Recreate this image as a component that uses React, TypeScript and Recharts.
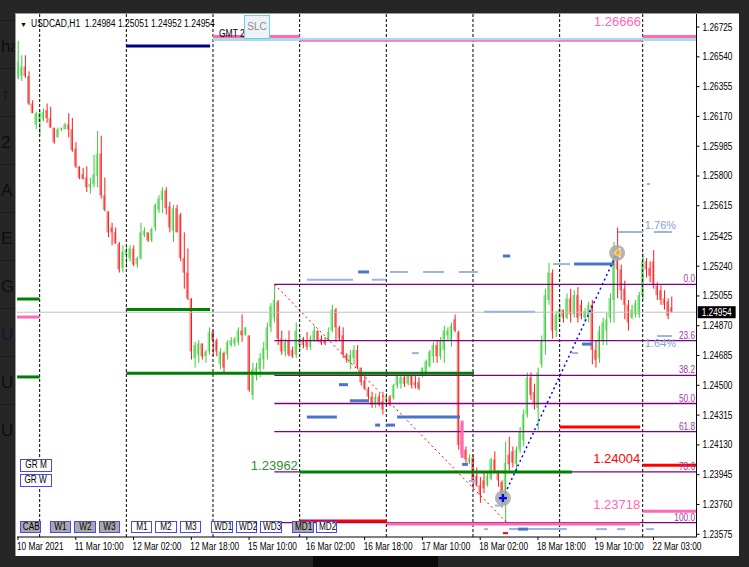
import React from 'react'
import { ComposedChart, Bar, XAxis, YAxis, ReferenceLine, ReferenceDot } from 'recharts'

type Ohlc = [number, number, number, number]
type Seg = [number, number, number]

// H1 bars, [open, high, low, close], one array per trading day
const mar10: Ohlc[] = [
  [1.2641, 1.2664, 1.2640, 1.2651],
  [1.2642, 1.2655, 1.2639, 1.2648],
  [1.2648, 1.2655, 1.2641, 1.2642],
  [1.2642, 1.2645, 1.2624, 1.2625],
  [1.2625, 1.2627, 1.2619, 1.2619],
  [1.2612, 1.2620, 1.2609, 1.2619],
]
const mar11: Ohlc[] = [
  [1.2614, 1.2621, 1.2605, 1.2619],
  [1.2615, 1.2622, 1.2614, 1.2620],
  [1.2621, 1.2625, 1.2613, 1.2616],
  [1.2616, 1.2623, 1.2610, 1.2610],
  [1.2610, 1.2610, 1.2600, 1.2601],
  [1.2604, 1.2610, 1.2604, 1.2609],
  [1.2609, 1.2610, 1.2608, 1.2610],
  [1.2609, 1.2613, 1.2609, 1.2612],
  [1.2612, 1.2619, 1.2604, 1.2609],
  [1.2609, 1.2616, 1.2595, 1.2596],
  [1.2597, 1.2601, 1.2585, 1.2586],
  [1.2586, 1.2586, 1.2578, 1.2579],
  [1.2581, 1.2585, 1.2578, 1.2578],
  [1.2579, 1.2586, 1.2570, 1.2573],
  [1.2573, 1.2579, 1.2569, 1.2575],
  [1.2575, 1.2593, 1.2573, 1.2581],
  [1.2580, 1.2608, 1.2573, 1.2594],
  [1.2594, 1.2605, 1.2566, 1.2568],
  [1.2568, 1.2579, 1.2558, 1.2559],
  [1.2558, 1.2558, 1.2542, 1.2545],
  [1.2548, 1.2551, 1.2537, 1.2545],
  [1.2545, 1.2548, 1.2538, 1.2538],
  [1.2538, 1.2539, 1.2520, 1.2522],
  [1.2523, 1.2537, 1.2520, 1.2533],
]
const mar12: Ohlc[] = [
  [1.2531, 1.2536, 1.2523, 1.2534],
  [1.2529, 1.2537, 1.2527, 1.2535],
  [1.2535, 1.2537, 1.2524, 1.2525],
  [1.2525, 1.2530, 1.2523, 1.2529],
  [1.2529, 1.2551, 1.2528, 1.2545],
  [1.2543, 1.2548, 1.2542, 1.2546],
  [1.2545, 1.2545, 1.2539, 1.2540],
  [1.2540, 1.2548, 1.2539, 1.2547],
  [1.2548, 1.2563, 1.2546, 1.2562],
  [1.2559, 1.2568, 1.2557, 1.2566],
  [1.2565, 1.2573, 1.2557, 1.2571],
  [1.2571, 1.2573, 1.2556, 1.2560],
  [1.2561, 1.2564, 1.2545, 1.2548],
  [1.2546, 1.2562, 1.2539, 1.2560],
  [1.2560, 1.2562, 1.2545, 1.2545],
  [1.2556, 1.2557, 1.2527, 1.2529],
  [1.2529, 1.2545, 1.2510, 1.2520],
  [1.2520, 1.2535, 1.2503, 1.2504],
  [1.2504, 1.2504, 1.2466, 1.2471],
  [1.2467, 1.2477, 1.2461, 1.2475],
  [1.2469, 1.2478, 1.2464, 1.2476],
  [1.2476, 1.2476, 1.2466, 1.2468],
  [1.2468, 1.2472, 1.2464, 1.2471],
  [1.2471, 1.2486, 1.2469, 1.2483],
]
const mar15: Ohlc[] = [
  [1.2483, 1.2484, 1.2468, 1.2478],
  [1.2478, 1.2479, 1.2468, 1.2471],
  [1.2463, 1.2473, 1.2460, 1.2471],
  [1.2470, 1.2471, 1.2458, 1.2461],
  [1.2469, 1.2478, 1.2466, 1.2477],
  [1.2475, 1.2480, 1.2474, 1.2478],
  [1.2476, 1.2480, 1.2474, 1.2479],
  [1.2477, 1.2486, 1.2475, 1.2484],
  [1.2484, 1.2494, 1.2477, 1.2481],
  [1.2481, 1.2486, 1.2481, 1.2486],
  [1.2481, 1.2481, 1.2446, 1.2447],
  [1.2444, 1.2464, 1.2441, 1.2460],
  [1.2456, 1.2464, 1.2453, 1.2461],
  [1.2460, 1.2470, 1.2455, 1.2467],
  [1.2466, 1.2477, 1.2460, 1.2473],
  [1.2472, 1.2489, 1.2466, 1.2486],
  [1.2486, 1.2501, 1.2483, 1.2499],
  [1.2492, 1.25127, 1.2489, 1.2503],
  [1.2502, 1.2503, 1.2475, 1.2479],
  [1.2479, 1.2484, 1.2469, 1.2471],
  [1.2471, 1.2479, 1.2468, 1.2477],
  [1.2478, 1.2484, 1.2468, 1.2469],
  [1.2472, 1.2474, 1.2467, 1.2468],
  [1.2469, 1.2489, 1.2467, 1.2484],
]
const mar16: Ohlc[] = [
  [1.2475, 1.2481, 1.2472, 1.2479],
  [1.2479, 1.2480, 1.2473, 1.2475],
  [1.2478, 1.2483, 1.2472, 1.2474],
  [1.2474, 1.2481, 1.2472, 1.2479],
  [1.2478, 1.2487, 1.2477, 1.2484],
  [1.2484, 1.2484, 1.2477, 1.2478],
  [1.2479, 1.2481, 1.2475, 1.2476],
  [1.2478, 1.2480, 1.2475, 1.2476],
  [1.2478, 1.2486, 1.2478, 1.2483],
  [1.2484, 1.2500, 1.2483, 1.2497],
  [1.2497, 1.2498, 1.2477, 1.2486],
  [1.2486, 1.2487, 1.2478, 1.2479],
  [1.2481, 1.2486, 1.2467, 1.2469],
  [1.2469, 1.2470, 1.2464, 1.2466],
  [1.2464, 1.2472, 1.2460, 1.2469],
  [1.2467, 1.2475, 1.2463, 1.2472],
  [1.2472, 1.2475, 1.2460, 1.2461],
  [1.2461, 1.2461, 1.2450, 1.2452],
  [1.2453, 1.2456, 1.2447, 1.2448],
  [1.2448, 1.2449, 1.2441, 1.2443],
  [1.2443, 1.2446, 1.2436, 1.2438],
  [1.2438, 1.2445, 1.2436, 1.2443],
  [1.2443, 1.2445, 1.2437, 1.2438],
  [1.2440, 1.2446, 1.2432, 1.2435],
]
const mar17: Ohlc[] = [
  [1.2440, 1.2445, 1.2438, 1.2443],
  [1.2443, 1.2444, 1.2437, 1.2438],
  [1.2442, 1.2451, 1.2441, 1.2450],
  [1.2450, 1.2458, 1.2448, 1.2456],
  [1.2451, 1.2456, 1.2448, 1.2455],
  [1.2455, 1.2456, 1.2449, 1.2451],
  [1.2451, 1.2458, 1.2450, 1.2456],
  [1.2456, 1.2456, 1.2448, 1.2450],
  [1.2452, 1.2456, 1.2448, 1.2450],
  [1.2452, 1.2455, 1.2447, 1.2448],
  [1.2456, 1.2461, 1.2455, 1.2461],
  [1.2458, 1.2466, 1.2456, 1.2465],
  [1.2462, 1.2472, 1.2461, 1.2471],
  [1.2468, 1.2477, 1.2464, 1.2475],
  [1.2475, 1.2478, 1.2464, 1.2468],
  [1.2468, 1.2480, 1.2466, 1.2478],
  [1.2472, 1.2487, 1.2464, 1.2484],
  [1.2481, 1.2486, 1.2478, 1.2484],
  [1.2478, 1.2489, 1.2474, 1.2487],
  [1.2491, 1.2494, 1.2483, 1.2484],
  [1.2483, 1.2484, 1.2410, 1.2413],
  [1.2425, 1.2428, 1.2405, 1.2407],
  [1.2410, 1.2412, 1.2402, 1.2404],
  [1.2402, 1.2407, 1.2401, 1.2405],
]
const mar18: Ohlc[] = [
  [1.2405, 1.2407, 1.2386, 1.2391],
  [1.2394, 1.2399, 1.2387, 1.2388],
  [1.2388, 1.2393, 1.2377, 1.2382],
  [1.2391, 1.2397, 1.2383, 1.2386],
  [1.2388, 1.2396, 1.2387, 1.2394],
  [1.2392, 1.2405, 1.2391, 1.2404],
  [1.2404, 1.2409, 1.2396, 1.2397],
  [1.2397, 1.2397, 1.2387, 1.2391],
  [1.2390, 1.2391, 1.2374, 1.2379],
  [1.2376, 1.2415, 1.23647, 1.2402],
  [1.2407, 1.2418, 1.2397, 1.2401],
  [1.2409, 1.2412, 1.2399, 1.2402],
  [1.2401, 1.2412, 1.2397, 1.2410],
  [1.2410, 1.2424, 1.2408, 1.2421],
  [1.2416, 1.2435, 1.2412, 1.2432],
  [1.2432, 1.2458, 1.2430, 1.2455],
  [1.2455, 1.2458, 1.2441, 1.2444],
  [1.2446, 1.2451, 1.2435, 1.2438],
  [1.2436, 1.2461, 1.2422, 1.2458],
  [1.2463, 1.2481, 1.2461, 1.2478],
  [1.2478, 1.2510, 1.2469, 1.2506],
  [1.2503, 1.2526, 1.2500, 1.2520],
  [1.2520, 1.2522, 1.2479, 1.2484],
  [1.2484, 1.2496, 1.2480, 1.2494],
]
const mar19: Ohlc[] = [
  [1.2491, 1.2500, 1.2489, 1.2497],
  [1.2497, 1.2497, 1.2489, 1.2492],
  [1.2492, 1.2507, 1.2491, 1.2504],
  [1.2504, 1.2510, 1.2489, 1.2494],
  [1.2494, 1.2509, 1.2492, 1.2506],
  [1.2506, 1.2511, 1.2489, 1.2492],
  [1.2500, 1.2503, 1.2491, 1.2493],
  [1.2492, 1.2498, 1.2489, 1.2496],
  [1.2494, 1.2502, 1.2489, 1.2500],
  [1.2500, 1.2503, 1.2463, 1.2472],
  [1.2472, 1.2478, 1.2461, 1.2466],
  [1.2467, 1.2487, 1.2464, 1.2484],
  [1.2478, 1.2492, 1.2475, 1.2489],
  [1.2484, 1.2495, 1.2475, 1.2491],
  [1.2492, 1.2507, 1.2489, 1.2504],
  [1.2503, 1.2539, 1.2489, 1.2531],
  [1.2531, 1.2548, 1.2504, 1.2522],
  [1.2522, 1.2525, 1.2503, 1.2509],
  [1.2510, 1.2515, 1.2491, 1.2500],
  [1.2500, 1.2503, 1.2484, 1.2489],
  [1.2492, 1.2500, 1.2491, 1.2497],
  [1.2494, 1.2503, 1.2492, 1.2501],
  [1.2494, 1.2508, 1.2492, 1.2506],
]
const mar22: Ohlc[] = [
  [1.2506, 1.2532, 1.2503, 1.2527],
  [1.2527, 1.2529, 1.2517, 1.2522],
  [1.2523, 1.2527, 1.2514, 1.2518],
  [1.2527, 1.2534, 1.2510, 1.2512],
  [1.2512, 1.2514, 1.2503, 1.2506],
  [1.2509, 1.2512, 1.2500, 1.2503],
  [1.2504, 1.2509, 1.2497, 1.2500],
  [1.2502, 1.2504, 1.2491, 1.2493],
  [1.24984, 1.25051, 1.24952, 1.24954],
]

const timeLabels = ['10 Mar 2021', '11 Mar 10:00', '12 Mar 02:00', '12 Mar 18:00', '15 Mar 10:00', '16 Mar 02:00',
  '16 Mar 18:00', '17 Mar 10:00', '18 Mar 02:00', '18 Mar 18:00', '19 Mar 10:00', '22 Mar 03:00']
const labelBars = [0, 16, 32, 48, 64, 80, 96, 112, 128, 144, 160, 176]
const daySeparators = [6, 30, 54, 78, 102, 126, 150, 173]
const priceTicks = [1.26725, 1.2654, 1.26355, 1.2617, 1.25985, 1.258, 1.25615, 1.25425, 1.2524, 1.25055,
  1.2487, 1.24685, 1.245, 1.24315, 1.2413, 1.23945, 1.2376, 1.23575]
const lastPrice = 1.24954

const START = -0.25
const END = 187.8

// chart objects: [price, fromBar, toBar]
const cyanLevels: Seg[] = [[1.26647, 54, END]]
const navyLevels: Seg[] = [[1.26607, 29.9, 53.2]]
const pinkThinLevels: Seg[] = [[1.26638, 78, 173]]
const pinkLevels: Seg[] = [[1.26666, 54, 78], [1.26666, 173, END], [1.24924, START, 6], [1.23639, 102.2, 172.3], [1.23718, 173, END]]
const greenLevels: Seg[] = [[1.25036, START, 6], [1.24552, START, 6], [1.24971, 30, 53.2], [1.24575, 30, 126.3], [1.23962, 78, 153.4]]
const redLevels: Seg[] = [[1.23657, 78, 102.2], [1.24241, 150, 172.3], [1.24004, 173, END]]
const blueDark: Seg[] = [
  [1.25204, 94.2, 97.2], [1.25303, 134.3, 136.3], [1.25253, 154, 165.1], [1.24756, 156.2, 159.2],
  [1.24504, 88.9, 91.4], [1.24404, 91.9, 97.2], [1.24303, 80, 88.3], [1.24303, 105, 122.4],
  [1.24253, 98.9, 100.3], [1.24253, 101.9, 104.4], [1.24009, 123, 124.6], [1.23607, 138.5, 141.2],
]
const blueLight: Seg[] = [
  [1.25156, 80, 92.8], [1.25156, 98, 101.9], [1.25204, 103, 108], [1.25204, 112.2, 118], [1.25204, 122.1, 127.4],
  [1.25253, 148.2, 152.9], [1.25452, 166.2, 173.1], [1.25452, 176.1, 181.1], [1.24806, 177, 181.1],
  [1.247, 153.4, 155.1], [1.247, 109.1, 111], [1.24957, 129.1, 143.2], [1.23906, 124.9, 126.8],
  [1.23753, 132.1, 134.3], [1.23607, 129.1, 130.2], [1.23607, 136, 152], [1.23607, 160.1, 163.1],
  [1.23607, 165.9, 168.1], [1.23607, 173.9, 176.1], [1.2575, 174.2, 175],
]
const redDash: Seg[] = [[1.23582, 134.3, 135.7]]

const FIB_FROM = 71
const fibPrices = [1.25127, 1.24778, 1.24562, 1.24387, 1.24212, 1.23963, 1.23647]
const fibNames = ['0.0', '23.6', '38.2', '50.0', '61.8', '78.6', '100.0']
const fibSwing = [{ x: 71, y: 1.25127 }, { x: 135.4, y: 1.23647 }]
const riseSwing = [{ x: 134.3, y: 1.238 }, { x: 165.9, y: 1.25322 }]
const spikeMark = [{ x: 123, y: 1.2428 }, { x: 123, y: 1.2405 }]

// text objects on the chart: anchor bar, baseline price
const priceTags = [
  { text: '1.26666', bar: 172.5, price: 1.26732, color: '#ff69b4' },
  { text: '1.24004', bar: 172.3, price: 1.24015, color: '#ff0000' },
  { text: '1.23718', bar: 172.3, price: 1.23732, color: '#ff69b4' },
  { text: '1.23962', bar: 77.5, price: 1.23974, color: '#2f8f2f' },
]
const pctTags = [
  { text: '1.76%', bar: 173.6, price: 1.25468 },
  { text: '1.64%', bar: 173.6, price: 1.24738 },
]

const buttons = [
  { t: 'GR M', x: 20, y: 459, w: 32, h: 13, grey: false },
  { t: 'GR W', x: 20, y: 474, w: 32, h: 13, grey: false },
  { t: 'CAB', x: 20, y: 521, w: 21, h: 12, grey: true },
  { t: 'W1', x: 50, y: 521, w: 21, h: 12, grey: true },
  { t: 'W2', x: 74, y: 521, w: 22, h: 12, grey: true },
  { t: 'W3', x: 99, y: 521, w: 21, h: 12, grey: true },
  { t: 'M1', x: 131, y: 521, w: 21, h: 12, grey: false },
  { t: 'M2', x: 155, y: 521, w: 22, h: 12, grey: false },
  { t: 'M3', x: 180, y: 521, w: 21, h: 12, grey: false },
  { t: 'WD1', x: 211, y: 521, w: 22, h: 12, grey: false },
  { t: 'WD2', x: 236, y: 521, w: 21, h: 12, grey: false },
  { t: 'WD3', x: 260, y: 521, w: 22, h: 12, grey: false },
  { t: 'MD1', x: 292, y: 521, w: 22, h: 12, grey: true },
  { t: 'MD2', x: 316, y: 521, w: 21, h: 12, grey: false },
]
const sideLetters = ['ha', '↑', '2', 'A', 'E', 'G', 'U', 'U', 'U']

const FONT = '"Liberation Sans", Arial, sans-serif'
const NARROW = 0.83

// rough Liberation Sans advance widths, used to squeeze labels to the terminal's narrow font
const CW: Record<string, number> = { ' ': 0.278, '.': 0.278, ':': 0.278, ',': 0.278, '%': 0.889, M: 0.833, a: 0.556, r: 0.333 }
const textW = (s: string, size: number) => [...s].reduce((w, c) => w + (CW[c] ?? 0.556) * size, 0)

const NText = ({ x, y, text, size = 10, anchor = 'start', fill = '#000' }: any) => (
  <text x={x} y={y} fontSize={size} fontFamily={FONT} fill={fill} textAnchor={anchor}
    textLength={textW(text, size) * NARROW} lengthAdjust="spacingAndGlyphs">{text}</text>
)

const data = [mar10, mar11, mar12, mar15, mar16, mar17, mar18, mar19, mar22]
  .flat()
  .map(([open, high, low, close], i) => ({ i, open, high, low, close, range: [low, high] }))

const Candle = (props: any) => {
  const { x, y, width, height, payload } = props
  if (x == null || y == null || !payload) return null
  const { open, high, low, close } = payload
  const top = Math.min(y, y + height)
  const bottom = Math.max(y, y + height)
  const k = high > low ? (bottom - top) / (high - low) : 0
  const at = (v: number) => top + (high - v) * k
  const up = close >= open
  const cx = x + width / 2
  const bTop = Math.min(at(open), at(close))
  const bH = Math.max(1, Math.abs(at(open) - at(close)))
  return (
    <g>
      <rect x={cx - 1.5} y={bTop} width={2.4} height={bH} fill={up ? '#8fe88f' : '#f48a8a'} />
      <line x1={cx + 0.5} x2={cx + 0.5} y1={top} y2={bottom} stroke={up ? '#3cc83c' : '#ff1a1a'} strokeWidth={1} />
    </g>
  )
}

const TimeTick = (props: any) => {
  const { x, y, payload } = props
  const k = labelBars.indexOf(payload.value)
  return <NText x={x - 1} y={y + 8} text={timeLabels[k]} />
}

const PriceTick = (props: any) => {
  const { x, y, payload } = props
  return <NText x={x} y={y + 3.5} text={Number(payload.value).toFixed(5)} />
}

function segs(list: Seg[], stroke: string, width: number, key: string) {
  return list.map(([p, a, b], n) => (
    <ReferenceLine key={key + n} segment={[{ x: a, y: p }, { x: b, y: p }]} stroke={stroke}
      strokeWidth={width} ifOverflow="visible" />
  ))
}

const squeeze: React.CSSProperties = { display: 'inline-block', transform: `scaleX(${NARROW + 0.02})`, transformOrigin: 'left center' }

export default function App() {
  return (
    <div style={{ position: 'absolute', left: 0, top: 0, width: 749, height: 567, background: '#262626', overflow: 'hidden', fontFamily: FONT }}>
      {/* left strip of the window behind */}
      {sideLetters.map((s, n) => (
        <div key={s + n} style={{ position: 'absolute', left: 1, top: 37 + n * 48, fontSize: 17,
          color: n === 6 ? '#0c1a3c' : '#0e0e0e', lineHeight: '20px' }}>{s}</div>
      ))}
      {sideLetters.map((s, n) => (
        <div key={'sep' + n} style={{ position: 'absolute', left: 0, top: 20 + n * 48, width: 16, height: 1, background: '#1c1c1c' }} />
      ))}
      <div style={{ position: 'absolute', left: 313, top: 555, width: 125, height: 12, background: '#0b0b0b' }} />
      <div style={{ position: 'absolute', left: 15, top: 13, width: 723, height: 542, background: '#fff', borderLeft: '1px solid #9a9a9a', borderTop: '1px solid #9a9a9a' }} />

      <div style={{ position: 'absolute', left: 0, top: 0 }}>
        <ComposedChart width={749} height={567} data={data} margin={{ top: 14, right: 0.5, bottom: 0, left: 17 }}
          style={{ fontFamily: FONT }}>
          <XAxis dataKey="i" type="number" domain={[-0.277, 187.9]} allowDataOverflow ticks={labelBars} interval={0}
            tick={<TimeTick />} tickSize={3} height={30} axisLine={{ stroke: '#000' }} tickLine={{ stroke: '#000' }} />
          <YAxis orientation="right" type="number" domain={[1.23558, 1.26806]} allowDataOverflow ticks={priceTicks}
            interval={0} width={52} tickSize={3} tickMargin={3} axisLine={{ stroke: '#000' }} tickLine={{ stroke: '#000' }}
            tick={<PriceTick />} />

          <Bar dataKey="range" barSize={3} shape={<Candle />} isAnimationActive={false} />

          {daySeparators.map((d) => (
            <ReferenceLine key={'d' + d} x={d} stroke="#000" strokeDasharray="3 2" ifOverflow="visible" />
          ))}
          <ReferenceLine y={lastPrice} stroke="#c0c0c0" ifOverflow="visible" />

          {segs(cyanLevels, '#a8dde8', 3, 'c')}
          {segs(pinkThinLevels, '#ff69b4', 1.5, 'pt')}
          {segs(navyLevels, '#000080', 3, 'n')}
          {fibPrices.map((p, n) => (
            <ReferenceLine key={'f' + n} segment={[{ x: FIB_FROM, y: p }, { x: END, y: p }]} stroke="#800080"
              strokeWidth={1.3} ifOverflow="visible" />
          ))}
          {fibPrices.map((p, n) => (
            <ReferenceDot key={'fl' + n} x={187.5} y={p} r={0} ifOverflow="visible"
              shape={(q: any) => <NText x={q.cx} y={q.cy - 2} anchor="end" fill="#9a3c9a" text={fibNames[n]} />} />
          ))}
          <ReferenceLine segment={fibSwing} stroke="#ff0000" strokeDasharray="2 3" ifOverflow="visible" />
          {segs(blueLight, '#9db4e0', 2, 'bl')}
          {segs(blueDark, '#4a74c8', 3, 'bd')}
          {segs(redDash, '#ff0000', 2, 'rd')}
          {segs(greenLevels, '#008000', 3, 'g')}
          {segs(redLevels, '#ff0000', 3, 'r')}
          {segs(pinkLevels, '#ff69b4', 3, 'p')}
          <ReferenceLine segment={spikeMark} stroke="#ff69b4" strokeWidth={3} ifOverflow="visible" />
          <ReferenceLine segment={riseSwing} stroke="#0000ff" strokeWidth={1.5} strokeDasharray="2 3" ifOverflow="visible" />

          <ReferenceDot x={riseSwing[0].x} y={riseSwing[0].y} r={0} ifOverflow="visible"
            shape={(q: any) => (
              <g>
                <circle cx={q.cx} cy={q.cy} r={8} fill="#a8a8a8" fillOpacity={0.85} />
                <path d={`M${q.cx - 4},${q.cy}H${q.cx + 4}M${q.cx},${q.cy - 4}V${q.cy + 4}`} stroke="#0000ff" strokeWidth={2.2} />
              </g>
            )} />
          <ReferenceDot x={riseSwing[1].x} y={riseSwing[1].y} r={0} ifOverflow="visible"
            shape={(q: any) => (
              <g>
                <circle cx={q.cx} cy={q.cy} r={8} fill="#a8a8a8" fillOpacity={0.85} />
                <path d={`M${q.cx + 3},${q.cy - 5}L${q.cx + 3},${q.cy + 4}L${q.cx - 3},${q.cy}Z`} fill="#ffa500" stroke="#fff" strokeWidth={0.8} />
              </g>
            )} />

          {priceTags.map((t) => (
            <ReferenceDot key={t.text} x={t.bar} y={t.price} r={0} ifOverflow="visible"
              shape={(q: any) => (
                <text x={q.cx} y={q.cy} textAnchor="end" fontSize={13} fontFamily={FONT} fill={t.color}>{t.text}</text>
              )} />
          ))}
          {pctTags.map((t) => (
            <ReferenceDot key={t.text} x={t.bar} y={t.price} r={0} ifOverflow="visible"
              shape={(q: any) => (
                <text x={q.cx} y={q.cy} fontSize={11} fontFamily={FONT} fill="#7f9fd6">{t.text}</text>
              )} />
          ))}
          <ReferenceDot x={187.8} y={lastPrice} r={0} ifOverflow="visible"
            shape={(q: any) => (
              <g>
                <rect x={q.cx + 1.5} y={q.cy - 6} width={38} height={12} fill="#000" />
                <NText x={q.cx + 5.5} y={q.cy + 3.5} fill="#fff" text={lastPrice.toFixed(5)} />
              </g>
            )} />
        </ComposedChart>
      </div>

      <div style={{ position: 'absolute', left: 20, top: 17, fontSize: 10, lineHeight: '14px', whiteSpace: 'pre', color: '#000' }}>
        <span style={{ fontSize: 7, marginRight: 4 }}>▼</span>
        <span style={squeeze}>{'USDCAD,H1  1.24984 1.25051 1.24952 1.24954'}</span>
      </div>
      <div style={{ position: 'absolute', left: 219, top: 28, fontSize: 10, lineHeight: '12px', color: '#000', whiteSpace: 'pre' }}>
        <span style={squeeze}>GMT 2</span>
      </div>
      <div style={{ position: 'absolute', left: 244, top: 15, width: 26, height: 24, boxSizing: 'border-box', border: '1px solid #6ccfe6',
        background: '#eef2f4', color: '#8c8c8c', fontSize: 10, lineHeight: '22px', textAlign: 'center' }}>SLC</div>
      {buttons.map((b) => (
        <div key={b.t} style={{ position: 'absolute', left: b.x, top: b.y, width: b.w, height: b.h, boxSizing: 'border-box',
          border: '1.5px solid #4646ff', background: b.grey ? '#a9a9a9' : '#fff', color: '#000', fontSize: 10,
          lineHeight: `${b.h - 3}px`, textAlign: 'center', whiteSpace: 'nowrap' }}>
          <span style={{ display: 'inline-block', transform: 'scaleX(0.82)' }}>{b.t}</span>
        </div>
      ))}
    </div>
  )
}
